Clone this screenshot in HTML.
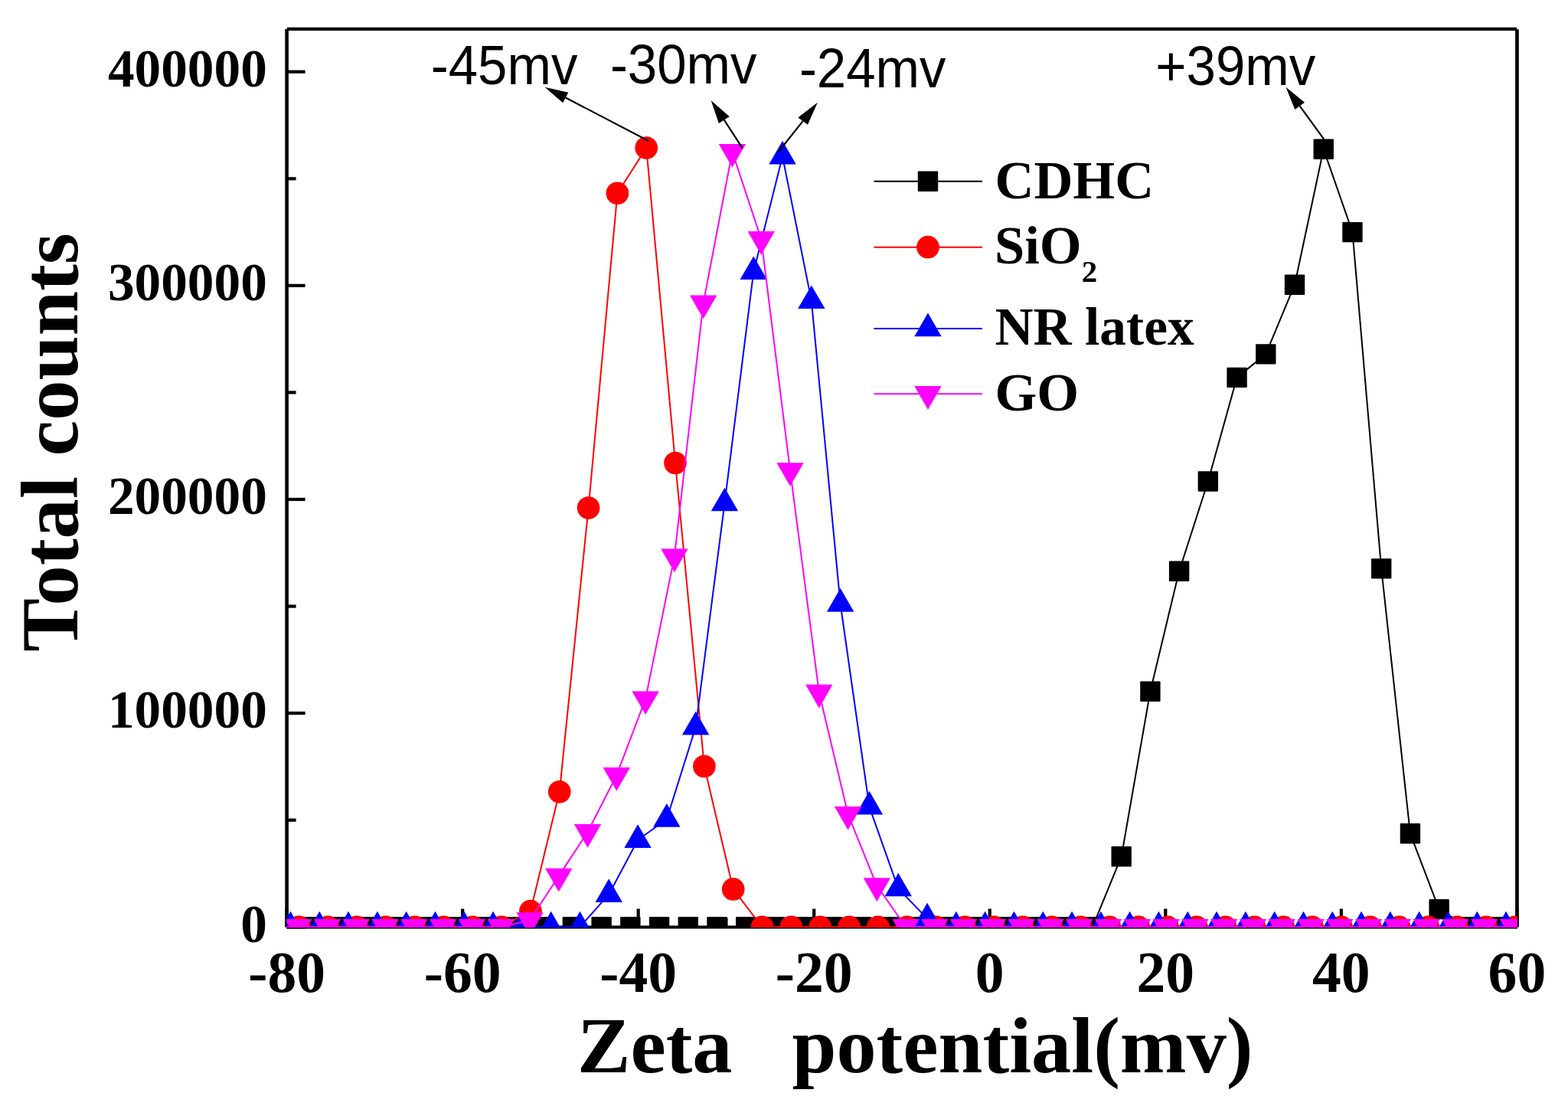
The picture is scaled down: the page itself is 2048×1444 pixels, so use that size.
<!DOCTYPE html>
<html><head><meta charset="utf-8"><title>Zeta potential</title>
<style>html,body{margin:0;padding:0;background:#fff;overflow:hidden}svg{display:block}</style>
</head><body>
<svg width="2048" height="1444" viewBox="0 0 2048 1444">
<rect width="2048" height="1444" fill="#fff"/>
<defs><clipPath id="pa"><rect x="374.3" y="38" width="1607.6" height="1172.9"/></clipPath></defs>
<g stroke="#000" fill="none">
<line x1="374.9" y1="37.85" x2="1981" y2="37.85" stroke-width="4.1"/>
<line x1="374.6" y1="38.1" x2="374.6" y2="1210.3" stroke-width="4.6"/>
<line x1="1981.45" y1="38.2" x2="1981.45" y2="1210.3" stroke-width="4.7"/>
<line x1="374.2" y1="1210.55" x2="1982" y2="1210.55" stroke-width="4.1"/>
<line x1="374.6" y1="1210.3" x2="398.6" y2="1210.3" stroke-width="4.2"/>
<line x1="374.6" y1="1070.72" x2="386.6" y2="1070.72" stroke-width="4.2"/>
<line x1="374.6" y1="931.15" x2="398.6" y2="931.15" stroke-width="4.2"/>
<line x1="374.6" y1="791.58" x2="386.6" y2="791.58" stroke-width="4.2"/>
<line x1="374.6" y1="652" x2="398.6" y2="652" stroke-width="4.2"/>
<line x1="374.6" y1="512.43" x2="386.6" y2="512.43" stroke-width="4.2"/>
<line x1="374.6" y1="372.85" x2="398.6" y2="372.85" stroke-width="4.2"/>
<line x1="374.6" y1="233.28" x2="386.6" y2="233.28" stroke-width="4.2"/>
<line x1="374.6" y1="93.7" x2="398.6" y2="93.7" stroke-width="4.2"/>
<line x1="374.6" y1="1210.5" x2="374.6" y2="1186.5" stroke-width="4.2"/>
<line x1="489.37" y1="1210.5" x2="489.37" y2="1198.5" stroke-width="4.2"/>
<line x1="604.14" y1="1210.5" x2="604.14" y2="1186.5" stroke-width="4.2"/>
<line x1="718.91" y1="1210.5" x2="718.91" y2="1198.5" stroke-width="4.2"/>
<line x1="833.69" y1="1210.5" x2="833.69" y2="1186.5" stroke-width="4.2"/>
<line x1="948.46" y1="1210.5" x2="948.46" y2="1198.5" stroke-width="4.2"/>
<line x1="1063.23" y1="1210.5" x2="1063.23" y2="1186.5" stroke-width="4.2"/>
<line x1="1178" y1="1210.5" x2="1178" y2="1198.5" stroke-width="4.2"/>
<line x1="1292.77" y1="1210.5" x2="1292.77" y2="1186.5" stroke-width="4.2"/>
<line x1="1407.54" y1="1210.5" x2="1407.54" y2="1198.5" stroke-width="4.2"/>
<line x1="1522.31" y1="1210.5" x2="1522.31" y2="1186.5" stroke-width="4.2"/>
<line x1="1637.09" y1="1210.5" x2="1637.09" y2="1198.5" stroke-width="4.2"/>
<line x1="1751.86" y1="1210.5" x2="1751.86" y2="1186.5" stroke-width="4.2"/>
<line x1="1866.63" y1="1210.5" x2="1866.63" y2="1198.5" stroke-width="4.2"/>
<line x1="1981.4" y1="1210.5" x2="1981.4" y2="1186.5" stroke-width="4.2"/>
</g>
<g clip-path="url(#pa)">
<g fill="#000">
<polyline fill="none" stroke="#000" stroke-width="2" stroke-linejoin="round" points="295.2,1210.3 332.92,1210.3 370.65,1210.3 408.37,1210.3 446.1,1210.3 483.82,1210.3 521.55,1210.3 559.27,1210.3 597,1210.3 634.72,1210.3 672.45,1210.3 710.17,1210.3 747.9,1210.3 785.62,1210.3 823.35,1210.3 861.08,1210.3 898.8,1210.3 936.52,1210.3 974.25,1210.3 1011.97,1210.3 1049.7,1210.3 1087.42,1210.3 1125.15,1210.3 1162.88,1210.3 1200.6,1210.3 1238.33,1210.3 1276.05,1210.3 1313.78,1210.3 1351.5,1210.3 1389.22,1210.3 1426.95,1210.3 1464.67,1118.3 1502.4,902.7 1540.12,745.7 1577.85,628.5 1615.58,492.9 1653.3,462.4 1691.03,371.7 1728.75,194.8 1766.47,303.1 1804.2,742.4 1841.93,1088.3 1879.65,1187.1 1917.38,1210.3 1955.1,1210.3 1992.82,1210.3 2030.55,1210.3"/>
<rect x="282" y="1197.1" width="26.4" height="26.4" rx="1"/>
<rect x="319.72" y="1197.1" width="26.4" height="26.4" rx="1"/>
<rect x="357.45" y="1197.1" width="26.4" height="26.4" rx="1"/>
<rect x="395.17" y="1197.1" width="26.4" height="26.4" rx="1"/>
<rect x="432.9" y="1197.1" width="26.4" height="26.4" rx="1"/>
<rect x="470.62" y="1197.1" width="26.4" height="26.4" rx="1"/>
<rect x="508.35" y="1197.1" width="26.4" height="26.4" rx="1"/>
<rect x="546.07" y="1197.1" width="26.4" height="26.4" rx="1"/>
<rect x="583.8" y="1197.1" width="26.4" height="26.4" rx="1"/>
<rect x="621.52" y="1197.1" width="26.4" height="26.4" rx="1"/>
<rect x="659.25" y="1197.1" width="26.4" height="26.4" rx="1"/>
<rect x="696.97" y="1197.1" width="26.4" height="26.4" rx="1"/>
<rect x="734.7" y="1197.1" width="26.4" height="26.4" rx="1"/>
<rect x="772.42" y="1197.1" width="26.4" height="26.4" rx="1"/>
<rect x="810.15" y="1197.1" width="26.4" height="26.4" rx="1"/>
<rect x="847.88" y="1197.1" width="26.4" height="26.4" rx="1"/>
<rect x="885.6" y="1197.1" width="26.4" height="26.4" rx="1"/>
<rect x="923.32" y="1197.1" width="26.4" height="26.4" rx="1"/>
<rect x="961.05" y="1197.1" width="26.4" height="26.4" rx="1"/>
<rect x="998.77" y="1197.1" width="26.4" height="26.4" rx="1"/>
<rect x="1036.5" y="1197.1" width="26.4" height="26.4" rx="1"/>
<rect x="1074.22" y="1197.1" width="26.4" height="26.4" rx="1"/>
<rect x="1111.95" y="1197.1" width="26.4" height="26.4" rx="1"/>
<rect x="1149.67" y="1197.1" width="26.4" height="26.4" rx="1"/>
<rect x="1187.4" y="1197.1" width="26.4" height="26.4" rx="1"/>
<rect x="1225.12" y="1197.1" width="26.4" height="26.4" rx="1"/>
<rect x="1262.85" y="1197.1" width="26.4" height="26.4" rx="1"/>
<rect x="1300.58" y="1197.1" width="26.4" height="26.4" rx="1"/>
<rect x="1338.3" y="1197.1" width="26.4" height="26.4" rx="1"/>
<rect x="1376.02" y="1197.1" width="26.4" height="26.4" rx="1"/>
<rect x="1413.75" y="1197.1" width="26.4" height="26.4" rx="1"/>
<rect x="1451.47" y="1105.1" width="26.4" height="26.4" rx="1"/>
<rect x="1489.2" y="889.5" width="26.4" height="26.4" rx="1"/>
<rect x="1526.92" y="732.5" width="26.4" height="26.4" rx="1"/>
<rect x="1564.65" y="615.3" width="26.4" height="26.4" rx="1"/>
<rect x="1602.38" y="479.7" width="26.4" height="26.4" rx="1"/>
<rect x="1640.1" y="449.2" width="26.4" height="26.4" rx="1"/>
<rect x="1677.83" y="358.5" width="26.4" height="26.4" rx="1"/>
<rect x="1715.55" y="181.6" width="26.4" height="26.4" rx="1"/>
<rect x="1753.27" y="289.9" width="26.4" height="26.4" rx="1"/>
<rect x="1791" y="729.2" width="26.4" height="26.4" rx="1"/>
<rect x="1828.73" y="1075.1" width="26.4" height="26.4" rx="1"/>
<rect x="1866.45" y="1173.9" width="26.4" height="26.4" rx="1"/>
<rect x="1904.17" y="1197.1" width="26.4" height="26.4" rx="1"/>
<rect x="1941.9" y="1197.1" width="26.4" height="26.4" rx="1"/>
<rect x="1979.62" y="1197.1" width="26.4" height="26.4" rx="1"/>
<rect x="2017.35" y="1197.1" width="26.4" height="26.4" rx="1"/>
</g>
<g fill="#f00">
<polyline fill="none" stroke="#f00" stroke-width="2" stroke-linejoin="round" points="314.75,1210.3 352.57,1210.3 390.39,1210.3 428.21,1210.3 466.03,1210.3 503.85,1210.3 541.67,1210.3 579.49,1210.3 617.31,1210.3 655.13,1210.3 692.95,1189.5 730.77,1033.8 768.59,663.1 806.41,252.3 844.23,193.1 882.05,604.5 919.87,1000.5 957.69,1160.9 995.51,1210.3 1033.33,1210.3 1071.15,1210.3 1108.97,1210.3 1146.79,1210.3 1184.61,1210.3 1222.43,1210.3 1260.25,1210.3 1298.07,1210.3 1335.89,1210.3 1373.71,1210.3 1411.53,1210.3 1449.35,1210.3 1487.17,1210.3 1524.99,1210.3 1562.81,1210.3 1600.63,1210.3 1638.45,1210.3 1676.27,1210.3 1714.09,1210.3 1751.91,1210.3 1789.73,1210.3 1827.55,1210.3 1865.37,1210.3 1903.19,1210.3 1941.01,1210.3 1978.83,1210.3 2016.65,1210.3 2054.47,1210.3"/>
<circle cx="314.75" cy="1210.3" r="14.85"/>
<circle cx="352.57" cy="1210.3" r="14.85"/>
<circle cx="390.39" cy="1210.3" r="14.85"/>
<circle cx="428.21" cy="1210.3" r="14.85"/>
<circle cx="466.03" cy="1210.3" r="14.85"/>
<circle cx="503.85" cy="1210.3" r="14.85"/>
<circle cx="541.67" cy="1210.3" r="14.85"/>
<circle cx="579.49" cy="1210.3" r="14.85"/>
<circle cx="617.31" cy="1210.3" r="14.85"/>
<circle cx="655.13" cy="1210.3" r="14.85"/>
<circle cx="692.95" cy="1189.5" r="14.85"/>
<circle cx="730.77" cy="1033.8" r="14.85"/>
<circle cx="768.59" cy="663.1" r="14.85"/>
<circle cx="806.41" cy="252.3" r="14.85"/>
<circle cx="844.23" cy="193.1" r="14.85"/>
<circle cx="882.05" cy="604.5" r="14.85"/>
<circle cx="919.87" cy="1000.5" r="14.85"/>
<circle cx="957.69" cy="1160.9" r="14.85"/>
<circle cx="995.51" cy="1210.3" r="14.85"/>
<circle cx="1033.33" cy="1210.3" r="14.85"/>
<circle cx="1071.15" cy="1210.3" r="14.85"/>
<circle cx="1108.97" cy="1210.3" r="14.85"/>
<circle cx="1146.79" cy="1210.3" r="14.85"/>
<circle cx="1184.61" cy="1210.3" r="14.85"/>
<circle cx="1222.43" cy="1210.3" r="14.85"/>
<circle cx="1260.25" cy="1210.3" r="14.85"/>
<circle cx="1298.07" cy="1210.3" r="14.85"/>
<circle cx="1335.89" cy="1210.3" r="14.85"/>
<circle cx="1373.71" cy="1210.3" r="14.85"/>
<circle cx="1411.53" cy="1210.3" r="14.85"/>
<circle cx="1449.35" cy="1210.3" r="14.85"/>
<circle cx="1487.17" cy="1210.3" r="14.85"/>
<circle cx="1524.99" cy="1210.3" r="14.85"/>
<circle cx="1562.81" cy="1210.3" r="14.85"/>
<circle cx="1600.63" cy="1210.3" r="14.85"/>
<circle cx="1638.45" cy="1210.3" r="14.85"/>
<circle cx="1676.27" cy="1210.3" r="14.85"/>
<circle cx="1714.09" cy="1210.3" r="14.85"/>
<circle cx="1751.91" cy="1210.3" r="14.85"/>
<circle cx="1789.73" cy="1210.3" r="14.85"/>
<circle cx="1827.55" cy="1210.3" r="14.85"/>
<circle cx="1865.37" cy="1210.3" r="14.85"/>
<circle cx="1903.19" cy="1210.3" r="14.85"/>
<circle cx="1941.01" cy="1210.3" r="14.85"/>
<circle cx="1978.83" cy="1210.3" r="14.85"/>
<circle cx="2016.65" cy="1210.3" r="14.85"/>
<circle cx="2054.47" cy="1210.3" r="14.85"/>
</g>
<g fill="#00f">
<polyline fill="none" stroke="#00f" stroke-width="2" stroke-linejoin="round" points="303.85,1210.3 341.65,1210.3 379.45,1210.3 417.25,1210.3 455.05,1210.3 492.85,1210.3 530.65,1210.3 568.45,1210.3 606.25,1210.3 644.05,1210.3 681.85,1210.3 719.65,1210.3 757.45,1210.3 795.25,1167.7 833.05,1096.7 870.85,1069.5 908.65,949.3 946.45,657.1 984.25,354.9 1022.05,204.2 1059.85,392.9 1097.65,788.5 1135.45,1053.3 1173.25,1160.1 1211.05,1199.2 1248.85,1210.3 1286.65,1210.3 1324.45,1210.3 1362.25,1210.3 1400.05,1210.3 1437.85,1210.3 1475.65,1210.3 1513.45,1210.3 1551.25,1210.3 1589.05,1210.3 1626.85,1210.3 1664.65,1210.3 1702.45,1210.3 1740.25,1210.3 1778.05,1210.3 1815.85,1210.3 1853.65,1210.3 1891.45,1210.3 1929.25,1210.3 1967.05,1210.3 2004.85,1210.3 2042.65,1210.3"/>
<polygon points="303.85,1189.86 321.55,1220.52 286.15,1220.52"/>
<polygon points="341.65,1189.86 359.35,1220.52 323.95,1220.52"/>
<polygon points="379.45,1189.86 397.15,1220.52 361.75,1220.52"/>
<polygon points="417.25,1189.86 434.95,1220.52 399.55,1220.52"/>
<polygon points="455.05,1189.86 472.75,1220.52 437.35,1220.52"/>
<polygon points="492.85,1189.86 510.55,1220.52 475.15,1220.52"/>
<polygon points="530.65,1189.86 548.35,1220.52 512.95,1220.52"/>
<polygon points="568.45,1189.86 586.15,1220.52 550.75,1220.52"/>
<polygon points="606.25,1189.86 623.95,1220.52 588.55,1220.52"/>
<polygon points="644.05,1189.86 661.75,1220.52 626.35,1220.52"/>
<polygon points="681.85,1189.86 699.55,1220.52 664.15,1220.52"/>
<polygon points="719.65,1189.86 737.35,1220.52 701.95,1220.52"/>
<polygon points="757.45,1189.86 775.15,1220.52 739.75,1220.52"/>
<polygon points="795.25,1147.26 812.95,1177.92 777.55,1177.92"/>
<polygon points="833.05,1076.26 850.75,1106.92 815.35,1106.92"/>
<polygon points="870.85,1049.06 888.55,1079.72 853.15,1079.72"/>
<polygon points="908.65,928.86 926.35,959.52 890.95,959.52"/>
<polygon points="946.45,636.66 964.15,667.32 928.75,667.32"/>
<polygon points="984.25,334.46 1001.95,365.12 966.55,365.12"/>
<polygon points="1022.05,183.76 1039.75,214.42 1004.35,214.42"/>
<polygon points="1059.85,372.46 1077.55,403.12 1042.15,403.12"/>
<polygon points="1097.65,768.06 1115.35,798.72 1079.95,798.72"/>
<polygon points="1135.45,1032.86 1153.15,1063.52 1117.75,1063.52"/>
<polygon points="1173.25,1139.66 1190.95,1170.32 1155.55,1170.32"/>
<polygon points="1211.05,1178.76 1228.75,1209.42 1193.35,1209.42"/>
<polygon points="1248.85,1189.86 1266.55,1220.52 1231.15,1220.52"/>
<polygon points="1286.65,1189.86 1304.35,1220.52 1268.95,1220.52"/>
<polygon points="1324.45,1189.86 1342.15,1220.52 1306.75,1220.52"/>
<polygon points="1362.25,1189.86 1379.95,1220.52 1344.55,1220.52"/>
<polygon points="1400.05,1189.86 1417.75,1220.52 1382.35,1220.52"/>
<polygon points="1437.85,1189.86 1455.55,1220.52 1420.15,1220.52"/>
<polygon points="1475.65,1189.86 1493.35,1220.52 1457.95,1220.52"/>
<polygon points="1513.45,1189.86 1531.15,1220.52 1495.75,1220.52"/>
<polygon points="1551.25,1189.86 1568.95,1220.52 1533.55,1220.52"/>
<polygon points="1589.05,1189.86 1606.75,1220.52 1571.35,1220.52"/>
<polygon points="1626.85,1189.86 1644.55,1220.52 1609.15,1220.52"/>
<polygon points="1664.65,1189.86 1682.35,1220.52 1646.95,1220.52"/>
<polygon points="1702.45,1189.86 1720.15,1220.52 1684.75,1220.52"/>
<polygon points="1740.25,1189.86 1757.95,1220.52 1722.55,1220.52"/>
<polygon points="1778.05,1189.86 1795.75,1220.52 1760.35,1220.52"/>
<polygon points="1815.85,1189.86 1833.55,1220.52 1798.15,1220.52"/>
<polygon points="1853.65,1189.86 1871.35,1220.52 1835.95,1220.52"/>
<polygon points="1891.45,1189.86 1909.15,1220.52 1873.75,1220.52"/>
<polygon points="1929.25,1189.86 1946.95,1220.52 1911.55,1220.52"/>
<polygon points="1967.05,1189.86 1984.75,1220.52 1949.35,1220.52"/>
<polygon points="2004.85,1189.86 2022.55,1220.52 1987.15,1220.52"/>
<polygon points="2042.65,1189.86 2060.35,1220.52 2024.95,1220.52"/>
</g>
<g fill="#f0f">
<polyline fill="none" stroke="#f0f" stroke-width="2" stroke-linejoin="round" points="314.2,1210.3 351.98,1210.3 389.76,1210.3 427.54,1210.3 465.32,1210.3 503.1,1210.3 540.88,1210.3 578.66,1210.3 616.44,1210.3 654.22,1210.3 692,1201.5 729.78,1143.9 767.56,1086.2 805.34,1012.2 843.12,912.6 880.9,726.7 918.68,395.7 956.46,198.1 994.24,312.3 1032.02,614.4 1069.8,904 1107.58,1063.1 1145.36,1156.5 1183.14,1210.3 1220.92,1210.3 1258.7,1210.3 1296.48,1210.3 1334.26,1210.3 1372.04,1210.3 1409.82,1210.3 1447.6,1210.3 1485.38,1210.3 1523.16,1210.3 1560.94,1210.3 1598.72,1210.3 1636.5,1210.3 1674.28,1210.3 1712.06,1210.3 1749.84,1210.3 1787.62,1210.3 1825.4,1210.3 1863.18,1210.3 1900.96,1210.3 1938.74,1210.3 1976.52,1210.3 2014.3,1210.3 2052.08,1210.3"/>
<polygon points="314.2,1230.74 331.9,1200.08 296.5,1200.08"/>
<polygon points="351.98,1230.74 369.68,1200.08 334.28,1200.08"/>
<polygon points="389.76,1230.74 407.46,1200.08 372.06,1200.08"/>
<polygon points="427.54,1230.74 445.24,1200.08 409.84,1200.08"/>
<polygon points="465.32,1230.74 483.02,1200.08 447.62,1200.08"/>
<polygon points="503.1,1230.74 520.8,1200.08 485.4,1200.08"/>
<polygon points="540.88,1230.74 558.58,1200.08 523.18,1200.08"/>
<polygon points="578.66,1230.74 596.36,1200.08 560.96,1200.08"/>
<polygon points="616.44,1230.74 634.14,1200.08 598.74,1200.08"/>
<polygon points="654.22,1230.74 671.92,1200.08 636.52,1200.08"/>
<polygon points="692,1221.94 709.7,1191.28 674.3,1191.28"/>
<polygon points="729.78,1164.34 747.48,1133.68 712.08,1133.68"/>
<polygon points="767.56,1106.64 785.26,1075.98 749.86,1075.98"/>
<polygon points="805.34,1032.64 823.04,1001.98 787.64,1001.98"/>
<polygon points="843.12,933.04 860.82,902.38 825.42,902.38"/>
<polygon points="880.9,747.14 898.6,716.48 863.2,716.48"/>
<polygon points="918.68,416.14 936.38,385.48 900.98,385.48"/>
<polygon points="956.46,218.54 974.16,187.88 938.76,187.88"/>
<polygon points="994.24,332.74 1011.94,302.08 976.54,302.08"/>
<polygon points="1032.02,634.84 1049.72,604.18 1014.32,604.18"/>
<polygon points="1069.8,924.44 1087.5,893.78 1052.1,893.78"/>
<polygon points="1107.58,1083.54 1125.28,1052.88 1089.88,1052.88"/>
<polygon points="1145.36,1176.94 1163.06,1146.28 1127.66,1146.28"/>
<polygon points="1183.14,1230.74 1200.84,1200.08 1165.44,1200.08"/>
<polygon points="1220.92,1230.74 1238.62,1200.08 1203.22,1200.08"/>
<polygon points="1258.7,1230.74 1276.4,1200.08 1241,1200.08"/>
<polygon points="1296.48,1230.74 1314.18,1200.08 1278.78,1200.08"/>
<polygon points="1334.26,1230.74 1351.96,1200.08 1316.56,1200.08"/>
<polygon points="1372.04,1230.74 1389.74,1200.08 1354.34,1200.08"/>
<polygon points="1409.82,1230.74 1427.52,1200.08 1392.12,1200.08"/>
<polygon points="1447.6,1230.74 1465.3,1200.08 1429.9,1200.08"/>
<polygon points="1485.38,1230.74 1503.08,1200.08 1467.68,1200.08"/>
<polygon points="1523.16,1230.74 1540.86,1200.08 1505.46,1200.08"/>
<polygon points="1560.94,1230.74 1578.64,1200.08 1543.24,1200.08"/>
<polygon points="1598.72,1230.74 1616.42,1200.08 1581.02,1200.08"/>
<polygon points="1636.5,1230.74 1654.2,1200.08 1618.8,1200.08"/>
<polygon points="1674.28,1230.74 1691.98,1200.08 1656.58,1200.08"/>
<polygon points="1712.06,1230.74 1729.76,1200.08 1694.36,1200.08"/>
<polygon points="1749.84,1230.74 1767.54,1200.08 1732.14,1200.08"/>
<polygon points="1787.62,1230.74 1805.32,1200.08 1769.92,1200.08"/>
<polygon points="1825.4,1230.74 1843.1,1200.08 1807.7,1200.08"/>
<polygon points="1863.18,1230.74 1880.88,1200.08 1845.48,1200.08"/>
<polygon points="1900.96,1230.74 1918.66,1200.08 1883.26,1200.08"/>
<polygon points="1938.74,1230.74 1956.44,1200.08 1921.04,1200.08"/>
<polygon points="1976.52,1230.74 1994.22,1200.08 1958.82,1200.08"/>
<polygon points="2014.3,1230.74 2032,1200.08 1996.6,1200.08"/>
<polygon points="2052.08,1230.74 2069.78,1200.08 2034.38,1200.08"/>
</g>
</g>
<g stroke="#000" fill="#000">
<line x1="847.1" y1="184" x2="738.75" y2="127.5" stroke-width="2.2"/>
<polygon stroke="none" points="711.5,113.7 742.3,120.8 735.2,134.2"/>
<line x1="969.7" y1="193.3" x2="945.85" y2="156.6" stroke-width="2.2"/>
<polygon stroke="none" points="928.6,130.9 952.8,152.2 938.9,161"/>
<line x1="1016.5" y1="198.5" x2="1048.65" y2="158.1" stroke-width="2.2"/>
<polygon stroke="none" points="1067.9,133.8 1042.3,153.5 1055,162.7"/>
<line x1="1729.3" y1="181.8" x2="1697.65" y2="138.35" stroke-width="2.2"/>
<polygon stroke="none" points="1679.5,113.7 1704,133.7 1691.3,143"/>
</g>
<g style="font-family:'Liberation Serif','Times New Roman',serif;font-weight:bold;font-size:69.3px" text-anchor="end">
<text x="348.8" y="1229.6">0</text>
<text x="348.8" y="950.45">100000</text>
<text x="348.8" y="671.3">200000</text>
<text x="348.8" y="392.15">300000</text>
<text x="348.8" y="113">400000</text>
</g>
<g style="font-family:'Liberation Serif','Times New Roman',serif;font-weight:bold;font-size:75.6px" text-anchor="middle">
<text x="374.6" y="1295.3">-80</text>
<text x="604.14" y="1295.3">-60</text>
<text x="833.69" y="1295.3">-40</text>
<text x="1063.23" y="1295.3">-20</text>
<text x="1292.77" y="1295.3">0</text>
<text x="1522.31" y="1295.3">20</text>
<text x="1751.86" y="1295.3">40</text>
<text x="1981.4" y="1295.3">60</text>
</g>
<text x="753.9" y="1399.7" style="font-family:'Liberation Serif','Times New Roman',serif;font-weight:bold;font-size:104.2px;white-space:pre" xml:space="preserve">Zeta   potential(mv)</text>
<text transform="translate(101,851.1) rotate(-90)" style="font-family:'Liberation Serif','Times New Roman',serif;font-weight:bold;font-size:104.9px">Total counts</text>
<g style="font-family:'Liberation Sans',Arial,sans-serif;font-size:69px">
<text transform="translate(562.7,109.8) scale(1,1.042)">-45mv</text>
<text transform="translate(796.9,108.9) scale(1,1.042)">-30mv</text>
<text transform="translate(1043.9,113.9) scale(1,1.042)">-24mv</text>
<text transform="translate(1509.3,110.9) scale(1,1.042)">+39mv</text>
</g>
<g fill="#000"><line x1="1141.5" y1="236.8" x2="1283" y2="236.8" stroke="#000" stroke-width="1.9"/><rect x="1198.8" y="223.6" width="26.4" height="26.4" rx="1"/></g>
<text x="1299.5" y="258.8" style="font-family:'Liberation Serif','Times New Roman',serif;font-weight:bold;font-size:70.5px">CDHC</text>
<g fill="#f00"><line x1="1141.5" y1="322.7" x2="1283" y2="322.7" stroke="#f00" stroke-width="1.9"/><circle cx="1212" cy="322.7" r="14.85"/></g>
<text x="1299" y="343.5" style="font-family:'Liberation Serif','Times New Roman',serif;font-weight:bold;font-size:70.5px">SiO<tspan dy="24.8" style="font-size:41px">2</tspan></text>
<g fill="#00f"><line x1="1141.5" y1="429" x2="1283" y2="429" stroke="#00f" stroke-width="1.9"/><polygon points="1212,408.56 1229.7,439.22 1194.3,439.22"/></g>
<text x="1299.5" y="450.3" style="font-family:'Liberation Serif','Times New Roman',serif;font-weight:bold;font-size:69.4px">NR latex</text>
<g fill="#f0f"><line x1="1141.5" y1="514.3" x2="1283" y2="514.3" stroke="#f0f" stroke-width="1.9"/><polygon points="1212,534.74 1229.7,504.08 1194.3,504.08"/></g>
<text x="1299.5" y="535.7" style="font-family:'Liberation Serif','Times New Roman',serif;font-weight:bold;font-size:70.5px">GO</text>
</svg>
</body></html>
